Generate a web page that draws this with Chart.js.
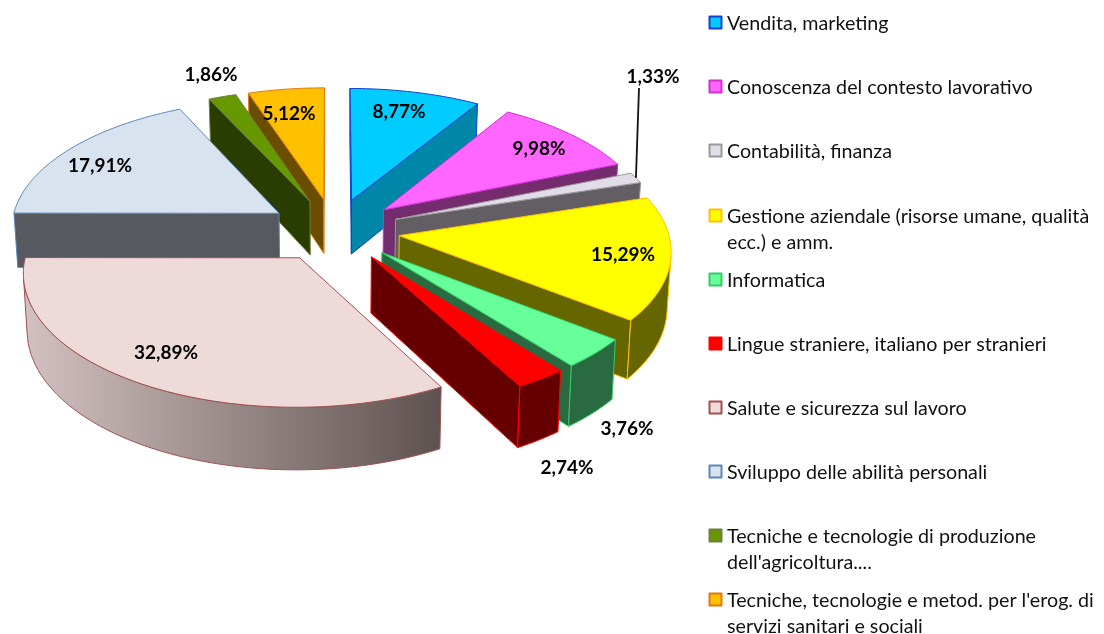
<!DOCTYPE html>
<html>
<head>
<meta charset="utf-8">
<title>Aree tematiche</title>
<script src="https://cdn.jsdelivr.net/npm/chart.js@4/dist/chart.umd.min.js"></script>
<style>
  html, body { margin: 0; padding: 0; background: #fff; }
  canvas { display: block; }
</style>
</head>
<body>
<canvas id="chart" width="1104" height="634"></canvas>
<script>
const categories = [
  ['Vendita, marketing'],
  ['Conoscenza del contesto lavorativo'],
  ['Contabilità, finanza'],
  ['Gestione aziendale (risorse umane, qualità', 'ecc.) e amm.'],
  ['Informatica'],
  ['Lingue straniere, italiano per stranieri'],
  ['Salute e sicurezza sul lavoro'],
  ['Sviluppo delle abilità personali'],
  ['Tecniche e tecnologie di produzione', "dell'agricoltura...."],
  ["Tecniche, tecnologie e metod. per l'erog. di", 'servizi sanitari e sociali']
]
const shares = [8.77, 9.98, 1.33, 15.29, 3.76, 2.74, 32.89, 17.91, 1.86, 5.12]

const topColors = ['#00CCFF', '#FF66FF', '#E1DDE8', '#FFFF00', '#66FF99', '#FF0000', '#EEDAD8', '#D9E3F0', '#669900', '#FFC000']
const edgeColors = ['#1440D0', '#CC33CC', '#9A979C', '#FFC000', '#33CC66', '#FF0000', '#A05050', '#5C86B8', '#6E7F3A', '#E07A10']
const wallColors = ['#0086A8', '#742C6F', '#625E64', '#666600', '#2A6A40', '#660000', '#8F8180', '#565A60', '#2A3D00', '#6B4D00']

// pixel spots for the percent labels, leader line only on the small grey one
const labelSpots = [[399, 112], [539, 149], [653, 77], [623, 255], [627, 429], [567, 468], [166, 353], [100, 166], [211, 75], [289, 114]]
const legendRows = [23, 87, 151, 216, 280, 344, 408, 472, 536, 600]

// the tilted view of the pie
const view = { stretchX: 1.32, stretchY: 0.632, persp: 0.1, depth: 55, shrink: 0.012 }
const explode = 50
const fontName = 'Lato, Carlito, sans-serif'

function project(arc, u, v, low) {
  const w = 1 + view.persp * v
  const k = low ? 1 - view.shrink : 1
  return {
    x: arc.x + u * view.stretchX * k / w,
    y: arc.y + (-v * view.stretchY * arc.outerRadius + (low ? view.depth : 0)) / w
  }
}

function slicePoints(arc, offset) {
  const R = arc.outerRadius
  const mid = (arc.startAngle + arc.endAngle) / 2
  const ox = Math.cos(mid) * offset
  const oy = -Math.sin(mid) * offset
  const pts = [{ u: ox, v: oy / R }]
  const steps = Math.max(2, Math.ceil((arc.endAngle - arc.startAngle) * 180 / Math.PI))
  for (let i = 0; i <= steps; i++) {
    const a = arc.startAngle + (arc.endAngle - arc.startAngle) * i / steps
    pts.push({ u: ox + Math.cos(a) * R, v: oy / R - Math.sin(a) })
  }
  return pts
}

function tracePoly(ctx, pts) {
  ctx.beginPath()
  pts.forEach((p, i) => i ? ctx.lineTo(p.x, p.y) : ctx.moveTo(p.x, p.y))
  ctx.closePath()
}

function area(pts) {
  let s = 0
  pts.forEach((p, i) => {
    const q = pts[(i + 1) % pts.length]
    s += p.x * q.y - q.x * p.y
  })
  return s / 2
}

function wallFill(ctx, i, pts) {
  if (i !== 6) return wallColors[i]
  // only the big slice has the shaded outer wall
  const xs = pts.map(p => p.x)
  const g = ctx.createLinearGradient(Math.min(...xs), 0, Math.max(...xs), 0)
  g.addColorStop(0, '#D2C1C0')
  g.addColorStop(1, '#5E5251')
  return g
}

function drawSlice(ctx, arc, i) {
  const raw = slicePoints(arc, arc.options.offset)
  const top = raw.map(p => project(arc, p.u, p.v, false))
  const low = raw.map(p => project(arc, p.u, p.v, true))
  const n = top.length
  ctx.lineWidth = 1
  ctx.lineJoin = 'round'
  ctx.strokeStyle = edgeColors[i]

  // straight cut faces: edge 0 goes tip -> arc start, edge n-1 goes arc end -> tip
  ;[[0, 1], [n - 1, 0]].forEach(([a, b]) => {
    const quad = [top[a], top[b], low[b], low[a]]
    if (area(quad) >= -1) return
    tracePoly(ctx, quad)
    ctx.fillStyle = i === 6 ? '#6a5d5c' : wallColors[i]
    ctx.fill()
    ctx.stroke()
  })

  // outer wall, visible stretch only
  let run = []
  const flush = () => {
    if (run.length < 2) { run = []; return }
    const poly = run.map(k => top[k]).concat(run.slice().reverse().map(k => low[k]))
    tracePoly(ctx, poly)
    ctx.fillStyle = wallFill(ctx, i, poly)
    ctx.fill()
    ctx.stroke()
    run = []
  }
  for (let k = 1; k < n - 1; k++) {
    const quad = [top[k], top[k + 1], low[k + 1], low[k]]
    if (area(quad) < 0) {
      if (!run.length) run.push(k)
      run.push(k + 1)
    } else flush()
  }
  flush()

  tracePoly(ctx, top)
  ctx.fillStyle = topColors[i]
  ctx.fill()
  ctx.stroke()
}

function drawLegend(ctx) {
  ctx.textBaseline = 'middle'
  ctx.textAlign = 'left'
  categories.forEach((lines, i) => {
    const y = legendRows[i]
    ctx.fillStyle = topColors[i]
    ctx.strokeStyle = edgeColors[i]
    ctx.lineWidth = 2
    ctx.fillRect(709.5, y - 6.5, 12, 12)
    ctx.strokeRect(709.5, y - 6.5, 12, 12)
    ctx.fillStyle = '#111'
    ctx.font = '19.7px ' + fontName
    lines.forEach((line, j) => ctx.fillText(line, 727, y + 1 + j * 26))
  })
}

const pie3d = {
  id: 'pie3d',
  beforeDatasetsDraw(chart) {
    const ctx = chart.ctx
    const arcs = chart.getDatasetMeta(0).data
    const depthOf = a => -Math.sin((a.startAngle + a.endAngle) / 2)
    const order = arcs.map((a, i) => i).sort((a, b) => depthOf(arcs[b]) - depthOf(arcs[a]))
    ctx.save()
    order.forEach(i => drawSlice(ctx, arcs[i], i))

    // leader for the grey slice
    const grey = arcs[2]
    const mid = (grey.startAngle + grey.endAngle) / 2
    const e = 1 + grey.options.offset / grey.outerRadius
    const tipP = project(grey, Math.cos(mid) * grey.outerRadius * e, -Math.sin(mid) * e, false)
    ctx.strokeStyle = '#111'
    ctx.lineWidth = 1.8
    ctx.beginPath()
    ctx.moveTo(labelSpots[2][0] - 14, labelSpots[2][1] + 11)
    ctx.lineTo(tipP.x, tipP.y)
    ctx.stroke()

    ctx.fillStyle = '#000'
    ctx.font = 'bold 19px ' + fontName
    ctx.textAlign = 'center'
    ctx.textBaseline = 'middle'
    shares.forEach((v, i) => {
      ctx.fillText(v.toFixed(2).replace('.', ',') + '%', labelSpots[i][0], labelSpots[i][1])
    })
    drawLegend(ctx)
    ctx.restore()
    return false
  }
}

new Chart(document.getElementById('chart'), {
  type: 'pie',
  data: {
    labels: categories,
    datasets: [{
      data: shares,
      backgroundColor: topColors,
      borderColor: edgeColors,
      borderWidth: 1,
      offset: explode
    }]
  },
  plugins: [pie3d],
  options: {
    responsive: false,
    animation: false,
    layout: { padding: { left: 105, right: 541, top: 1, bottom: 175 } },
    plugins: { legend: { display: false }, tooltip: { enabled: false } }
  }
})
</script>
</body>
</html>
